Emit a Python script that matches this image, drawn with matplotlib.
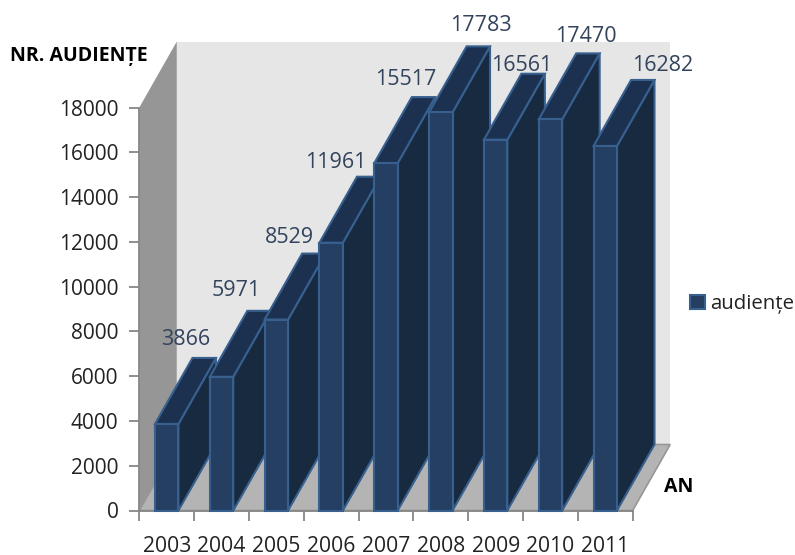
#-*-coding: utf-8-*-
import numpy as np
import matplotlib
matplotlib.use("Agg")
import matplotlib.pyplot as plt

plt.rcParams['font.family'] = ['Open Sans', 'DejaVu Sans']

ani = ['2003', '2004', '2005', '2006', '2007', '2008', '2009', '2010', '2011']
audiente = [3866, 5971, 8529, 11961, 15517, 17783, 16561, 17470, 16282]
yticks = [0, 2000, 4000, 6000, 8000, 10000, 12000, 14000, 16000, 18000]

# label shift from the front of each bar, in pixels
label_dx = [19, 15, 13, 5, 20, 40, 26, 35, 57]
label_dy = [84, 86, 82, 80, 84, 87, 74, 83, 80]

W, H = 795, 555
left, right, bottom, top = 139.3, 632.7, 510.5, 107.5

fig = plt.figure(figsize=(W/100, H/100), dpi=100)
ax = fig.add_axes([left/W, 1-bottom/H, (right-left)/W, (bottom-top)/H])
ax.patch.set_alpha(0)
ax.set_xlim(-0.5, 8.5)
ax.set_ylim(0, 18000)

# 3d depth expressed in axis units
px_x = 9/(right-left)
px_y = 18000/(bottom-top)
dx = 37.5*px_x
dy = 66*px_y
bar_w = 0.427

def poly(xs, ys, color, edge='none', z=1, lw=1.0):
    ax.fill(xs, ys, facecolor=color, edgecolor=edge, linewidth=lw, zorder=z, clip_on=False)

# walls and floor
poly([-0.5, -0.5+dx, -0.5+dx, -0.5], [0, dy, 18000+dy, 18000], '#969696', z=1)
poly([-0.5+dx, 8.5+dx, 8.5+dx, -0.5+dx], [dy, dy, 18000+dy, 18000+dy], '#e6e6e6', z=1)
poly([-0.5, 8.5, 8.5+dx, -0.5+dx], [0, 0, dy, dy], '#b4b4b4', edge='#969696', z=1.5, lw=1.2)

# bars, painted left to right so the next one hides the side of the previous one
x = np.arange(len(ani))
edge = '#38608f'
for i, v in enumerate(audiente):
    l = x[i]-bar_w/2
    r = x[i]+bar_w/2
    z = 2+i*0.1
    poly([r, r+dx, r+dx, r], [0, dy, v+dy, v], '#172a40', edge=edge, z=z, lw=1.5)
    poly([l, r, r+dx, l+dx], [v, v, v+dy, v+dy], '#1c3150', edge=edge, z=z+0.01, lw=1.5)
    ax.bar(x[i], v, width=bar_w, color='#253f63', edgecolor=edge, linewidth=1.5,
           zorder=z+0.02, clip_on=False, label='audiențe' if i == 0 else None)

# value labels
for i, v in enumerate(audiente):
    ax.text(x[i]+label_dx[i]*px_x, v+label_dy[i]*px_y, str(v), ha='center', va='center',
            fontsize=15.5, color='#33435c', zorder=10, clip_on=False)

for s in ['top', 'right']:
    ax.spines[s].set_visible(False)
for s in ['left', 'bottom']:
    ax.spines[s].set_color('#868686')
    ax.spines[s].set_linewidth(1.3)
    ax.spines[s].set_zorder(1.8)

ax.set_yticks(yticks)
ax.tick_params(axis='y', length=7, width=1.3, color='#868686', labelsize=15,
               labelcolor='#222222', pad=8)
ax.set_xticks(np.arange(-0.5, 9, 1))
ax.set_xticklabels([])
ax.tick_params(axis='x', which='major', length=7, width=1.3, color='#868686')
ax.set_xticks(x, minor=True)
ax.set_xticklabels(ani, minor=True)
ax.tick_params(axis='x', which='minor', length=0, labelsize=15.2, labelcolor='#222222', pad=18)

fig.text(79/W, 1-56/H, 'NR. AUDIENȚE', ha='center', va='center', fontsize=14,
         fontweight='bold', color='black')
fig.text(679/W, 1-487/H, 'AN', ha='center', va='center', fontsize=14,
         fontweight='bold', color='black')

leg = ax.legend(loc='center left', bbox_to_anchor=(690/W, 1-304/H), bbox_transform=fig.transFigure,
                frameon=False, fontsize=14.7, handlelength=0.72, handleheight=0.72,
                handletextpad=0.25, borderpad=0, borderaxespad=0, labelcolor='#222222')

fig.savefig('out.png', dpi=100)
